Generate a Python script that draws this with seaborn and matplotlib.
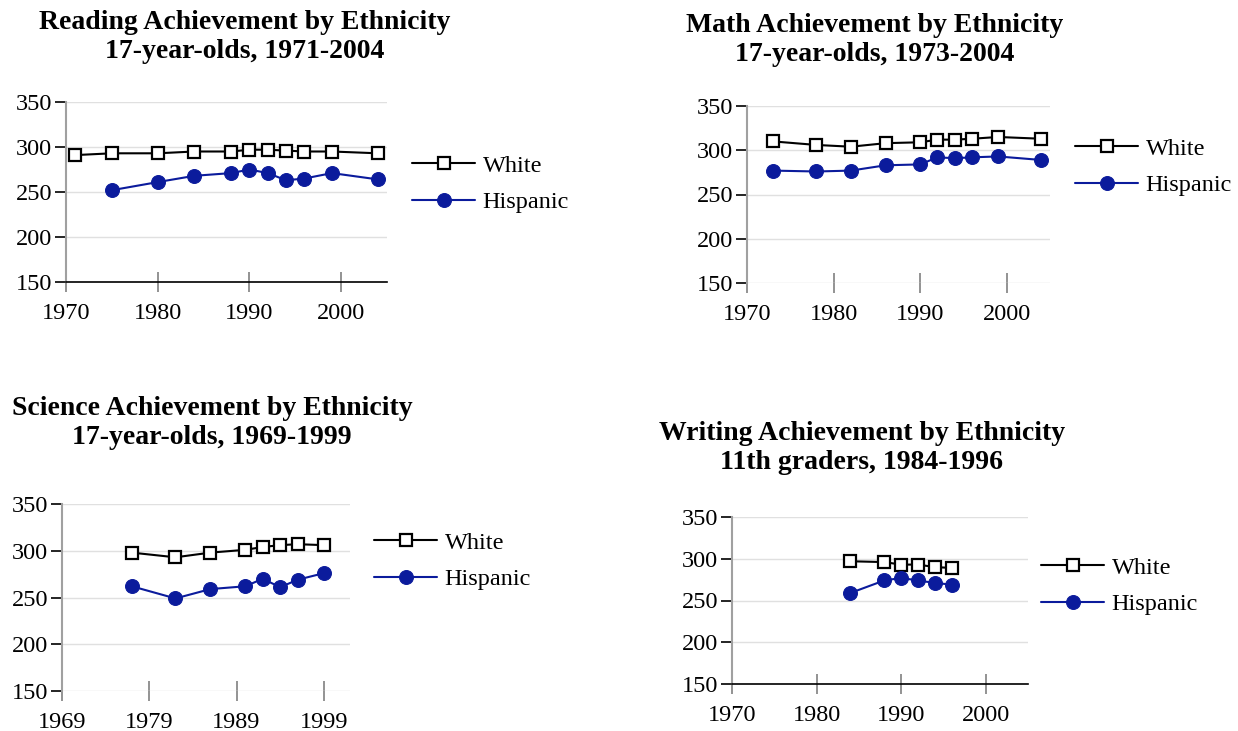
import numpy as np
import pandas as pd
import matplotlib
matplotlib.use('Agg')
import matplotlib.pyplot as plt
import seaborn as sns

## data (NAEP trend scores)
reading_years = [1971, 1975, 1980, 1984, 1988, 1990, 1992, 1994, 1996, 1999, 2004]
reading_white = [291, 293, 293, 295, 295, 297, 297, 296, 295, 295, 293]
reading_hisp_years = [1975, 1980, 1984, 1988, 1990, 1992, 1994, 1996, 1999, 2004]
reading_hisp = [252, 261, 268, 271, 275, 271, 263, 265, 271, 264]

math_years = [1973, 1978, 1982, 1986, 1990, 1992, 1994, 1996, 1999, 2004]
math_white = [310, 306, 304, 308, 309, 312, 312, 313, 315, 313]
math_hisp = [277, 276, 277, 283, 284, 292, 291, 292, 293, 289]

science_years = [1977, 1982, 1986, 1990, 1992, 1994, 1996, 1999]
science_white = [298, 293, 298, 301, 304, 306, 307, 306]
science_hisp = [262, 249, 259, 262, 270, 261, 269, 276]

writing_years = [1984, 1988, 1990, 1992, 1994, 1996]
writing_white = [297, 296, 293, 293, 290, 289]
writing_hisp = [259, 274, 277, 274, 271, 269]

y_ticks = [150, 200, 250, 300, 350]

sns.set_style('white')
plt.rcParams['font.family'] = ['Liberation Serif', 'DejaVu Serif']
plt.rcParams['text.color'] = 'black'
plt.rcParams['xtick.labelcolor'] = 'black'
plt.rcParams['ytick.labelcolor'] = 'black'

W, H = 1238, 731
fig = plt.figure(figsize=(W / 100, H / 100), dpi=100)
blue = '#0b1b9c'


def rect(l, t, r, b):
    # pixel box -> figure fraction
    return [l / W, 1 - b / H, (r - l) / W, (b - t) / H]


def panel(box, xw, yw, xh, yh, xlim, xticks, bottom_line, title, title_xy, legend_xy):
    ax = fig.add_axes(rect(*box))
    df = pd.concat([
        pd.DataFrame({'Year': xw, 'Score': yw, 'Group': 'White'}),
        pd.DataFrame({'Year': xh, 'Score': yh, 'Group': 'Hispanic'}),
    ])
    sns.lineplot(data=df[df.Group == 'White'], x='Year', y='Score', ax=ax, color='black',
                 marker='s', markersize=9, markerfacecolor='white', markeredgecolor='black',
                 markeredgewidth=1.6, linewidth=1.5, label='White', zorder=3)
    sns.lineplot(data=df[df.Group == 'Hispanic'], x='Year', y='Score', ax=ax, color=blue,
                 marker='o', markersize=10, markeredgecolor=blue, linewidth=1.5,
                 label='Hispanic', zorder=3)
    ax.set_xlim(*xlim)
    ax.set_ylim(150, 350)
    ax.set_yticks(y_ticks)
    ax.set_xticks(xticks)
    ax.set_xlabel('')
    ax.set_ylabel('')
    ax.yaxis.grid(True, color='#e0e0e0', linewidth=1)
    ax.set_axisbelow(True)
    for s in ['top', 'right']:
        ax.spines[s].set_visible(False)
    ax.spines['left'].set_color('#a0a0a0')
    ax.spines['left'].set_linewidth(1.5)
    if bottom_line:
        ax.spines['bottom'].set_color('black')
        ax.spines['bottom'].set_linewidth(1.2)
    else:
        ax.spines['bottom'].set_visible(False)
    ax.tick_params(axis='y', direction='out', length=8, width=1.2, color='black',
                   labelsize=17.5, pad=2, left=True)
    ax.tick_params(axis='x', direction='inout', length=14, width=1.2, color='#808080',
                   labelsize=17.5, pad=8, bottom=True)
    ax.legend_.remove()
    h, l = ax.get_legend_handles_labels()
    fig.legend(h, l, loc='center left', bbox_to_anchor=(legend_xy[0] / W, 1 - legend_xy[1] / H),
               frameon=False, fontsize=17.5, handlelength=2.6, handletextpad=0.3,
               labelspacing=0.58, borderpad=0, borderaxespad=0)
    fig.text(title_xy[0] / W, 1 - title_xy[1] / H, title, ha='center', va='center',
             fontsize=20, fontweight='bold', linespacing=1.25)
    return ax


panel((66, 102, 387, 282), reading_years, reading_white, reading_hisp_years, reading_hisp,
      (1970, 2005), [1970, 1980, 1990, 2000], True,
      'Reading Achievement by Ethnicity\n17-year-olds, 1971-2004', (245, 37), (412, 184))

panel((747, 106, 1050, 283), math_years, math_white, math_years, math_hisp,
      (1970, 2005), [1970, 1980, 1990, 2000], False,
      'Math Achievement by Ethnicity\n17-year-olds, 1973-2004', (875, 40), (1075, 167))

panel((62, 504, 350, 691), science_years, science_white, science_years, science_hisp,
      (1969, 2002), [1969, 1979, 1989, 1999], False,
      'Science Achievement by Ethnicity\n17-year-olds, 1969-1999', (212, 423), (374, 561))

panel((732, 517, 1028, 684), writing_years, writing_white, writing_years, writing_hisp,
      (1970, 2005), [1970, 1980, 1990, 2000], True,
      'Writing Achievement by Ethnicity\n11th graders, 1984-1996', (862, 448), (1041, 586))

fig.savefig('out.png', dpi=100)
